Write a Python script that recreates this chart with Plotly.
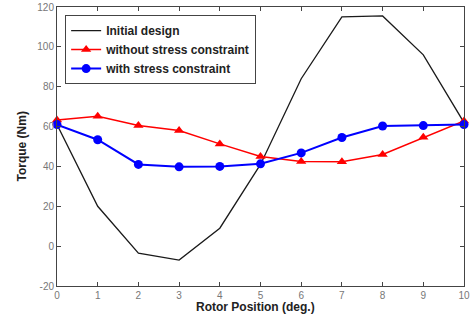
import plotly.graph_objects as go

rotor_pos = [0, 1, 2, 3, 4, 5, 6, 7, 8, 9, 10]
initial_design = [61, 20, -3.5, -7, 9, 41, 84, 115, 115.5, 96, 62]
without_stress = [63.3, 65.2, 60.5, 58, 51.3, 45, 42.5, 42.3, 46, 54.6, 62.8]
with_stress = [61, 53.4, 41, 39.8, 40, 41.3, 46.8, 54.5, 60.3, 60.5, 61]

x_ticks = [0, 1, 2, 3, 4, 5, 6, 7, 8, 9, 10]
y_ticks = [-20, 0, 20, 40, 60, 80, 100, 120]

FONT = "Liberation Sans, Arial, sans-serif"

fig = go.Figure()
fig.add_trace(go.Scatter(x=rotor_pos, y=initial_design, mode="lines", name="Initial design",
                         line=dict(color="#1a1a1a", width=1.3), cliponaxis=False))
fig.add_trace(go.Scatter(x=rotor_pos, y=without_stress, mode="lines+markers",
                         name="without stress constraint",
                         line=dict(color="#ff0000", width=1.5),
                         marker=dict(symbol="triangle-up", size=9, color="#ff0000"),
                         cliponaxis=False))
fig.add_trace(go.Scatter(x=rotor_pos, y=with_stress, mode="lines+markers",
                         name="with stress constraint",
                         line=dict(color="#0000ff", width=2),
                         marker=dict(symbol="circle", size=9, color="#0000ff"),
                         cliponaxis=False))

axis_common = dict(showline=True, linecolor="#444444", linewidth=1, mirror="allticks",
                   ticks="inside", ticklen=4, tickcolor="#444444", showgrid=False,
                   zeroline=False, automargin=False,
                   tickfont=dict(family=FONT, size=10, color="#777777"))

fig.update_xaxes(range=[0, 10], tickvals=x_ticks, ticktext=[str(v) for v in x_ticks], **axis_common)
fig.update_yaxes(range=[-20, 120], tickvals=y_ticks, ticktext=[str(v) for v in y_ticks], **axis_common)

title_font = dict(family=FONT, size=12, color="#222222", weight="bold")
fig.add_annotation(text="Rotor Position (deg.)", xref="paper", yref="paper",
                   x=0.488, y=-0.077, xanchor="center", yanchor="middle",
                   showarrow=False, font=title_font)
fig.add_annotation(text="Torque (Nm)", xref="paper", yref="paper",
                   x=-0.086, y=0.5, xanchor="center", yanchor="middle", textangle=-90,
                   showarrow=False, font=title_font)

fig.update_layout(
    width=476, height=322,
    margin=dict(l=57, r=12, t=7, b=36),
    plot_bgcolor="white", paper_bgcolor="white",
    legend=dict(x=0.02, y=0.971, xanchor="left", yanchor="top",
                bordercolor="#444444", borderwidth=1, bgcolor="white",
                font=dict(family=FONT, size=12, color="#222222", weight="bold"),
                tracegroupgap=0, itemwidth=30),
    showlegend=True,
)

fig.write_html("out.html", config={"displayModeBar": False},
               post_script="document.body.style.margin='0';document.body.style.overflow='hidden';")
